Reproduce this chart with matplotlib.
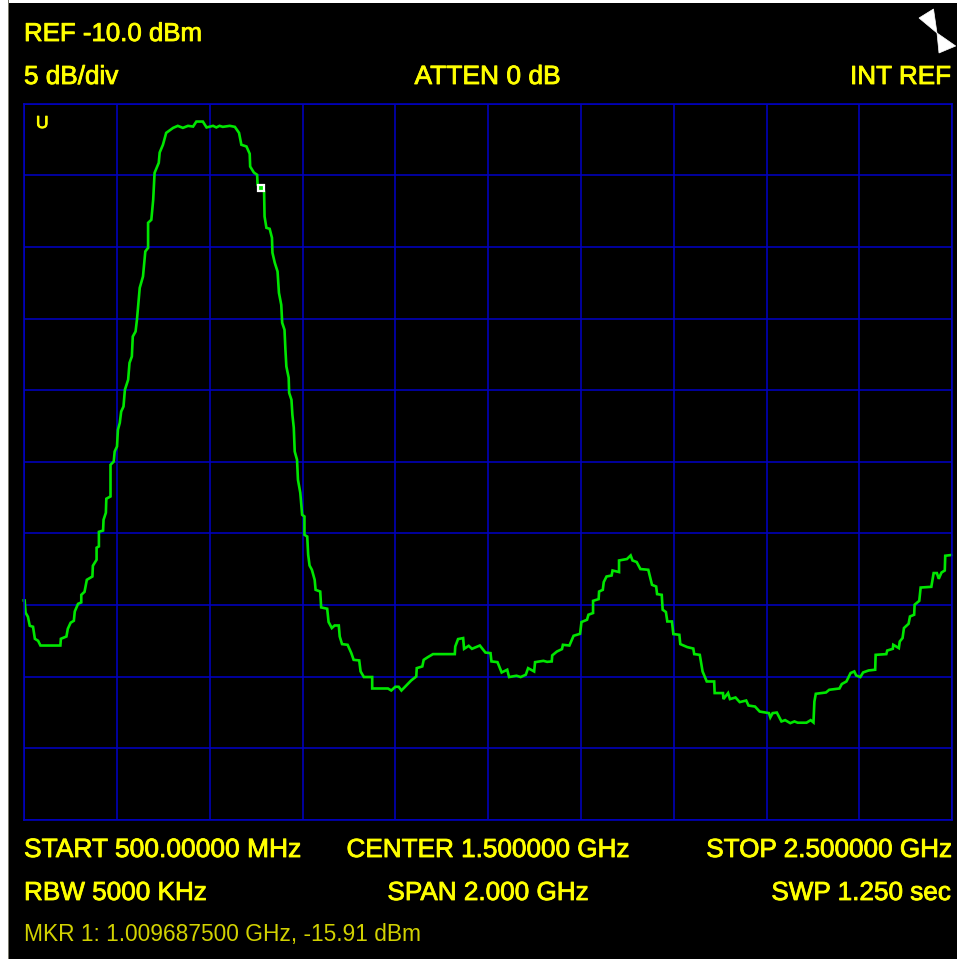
#!/usr/bin/env python3

# Spectrum analyzer screen capture
import matplotlib
matplotlib.use('Agg')
import matplotlib.pyplot as plt
import matplotlib.patheffects as pe
from matplotlib.patches import Polygon, Rectangle

W, H = 957, 959

# Trace corners
freq_mhz = [499, 501, 503, 508, 512, 519, 523, 530, 535, 578, 579, 591, 594, 600, 607, 609, 616, 623, 623, 630,
            635, 647, 648, 656, 656, 661, 661, 670, 671, 676, 677, 686, 686, 693, 695, 700, 702, 706, 709, 714,
            717, 724, 727, 732, 734, 740, 743, 749, 756, 761, 767, 767, 774, 778, 781, 790, 792, 799, 806, 821,
            831, 842, 853, 864, 871, 885, 893, 907, 914, 921, 928, 943, 954, 963, 968, 979, 986, 987, 995, 1002,
            1003, 1010, 1017, 1018, 1022, 1029, 1034, 1035, 1040, 1046, 1049, 1054, 1056, 1061, 1063, 1065, 1070, 1071, 1076, 1078,
            1081, 1083, 1088, 1090, 1095, 1099, 1104, 1104, 1110, 1112, 1115, 1120, 1126, 1128, 1138, 1140, 1153, 1156, 1163, 1169,
            1178, 1180, 1185, 1197, 1205, 1210, 1222, 1225, 1232, 1250, 1250, 1284, 1291, 1300, 1307, 1313, 1325, 1334, 1345, 1346,
            1358, 1361, 1370, 1381, 1428, 1429, 1435, 1446, 1448, 1458, 1465, 1482, 1494, 1505, 1507, 1520, 1529, 1541, 1545, 1561,
            1570, 1581, 1586, 1599, 1601, 1619, 1627, 1637, 1638, 1648, 1659, 1661, 1675, 1684, 1698, 1701, 1713, 1716, 1726, 1726,
            1738, 1739, 1747, 1749, 1755, 1766, 1768, 1782, 1782, 1799, 1807, 1811, 1820, 1828, 1845, 1853, 1862, 1864, 1874, 1876,
            1883, 1886, 1896, 1899, 1912, 1914, 1929, 1942, 1944, 1956, 1962, 1971, 1987, 1988, 2006, 2007, 2017, 2021, 2033, 2042,
            2056, 2061, 2075, 2085, 2105, 2108, 2113, 2122, 2132, 2140, 2151, 2160, 2167, 2186, 2195, 2201, 2203, 2206, 2228, 2235,
            2257, 2262, 2272, 2281, 2289, 2293, 2302, 2308, 2320, 2334, 2335, 2358, 2360, 2372, 2373, 2385, 2387, 2393, 2396, 2406,
            2409, 2418, 2419, 2429, 2432, 2455, 2460, 2467, 2471, 2477, 2484, 2485, 2498]
level_dbm = [-44.68, -44.68, -45.54, -45.82, -46.45, -46.52, -47.36, -47.50, -47.83, -47.83, -47.36, -47.20, -46.66, -46.24, -46.10, -45.45, -44.92, -44.82, -44.29, -44.08,
             -43.24, -43.01, -42.26, -41.84, -41.00, -40.91, -39.89, -39.80, -39.05, -38.56, -37.58, -37.42, -35.21, -34.98, -34.28, -33.93, -32.76, -32.28, -31.49, -31.14,
             -29.97, -29.27, -28.09, -27.65, -26.25, -25.90, -25.08, -22.85, -22.06, -20.31, -20.06, -18.31, -18.10, -16.70, -14.82, -14.12, -13.40, -12.86, -12.03, -11.68,
             -11.54, -11.68, -11.54, -11.59, -11.24, -11.24, -11.65, -11.54, -11.65, -11.54, -11.61, -11.54, -11.61, -12.03, -12.86, -12.98, -13.49, -14.38, -14.80, -14.96,
             -15.66, -15.91, -16.12, -17.87, -18.66, -18.73, -19.36, -20.40, -21.10, -21.71, -23.20, -24.04, -25.29, -25.78, -27.18, -28.34, -29.13, -30.18, -30.67, -31.72,
             -32.62, -34.28, -34.86, -36.26, -37.16, -38.70, -38.82, -40.10, -40.22, -41.49, -42.24, -42.54, -43.24, -43.94, -44.06, -45.17, -45.26, -46.19, -46.61, -46.43,
             -46.43, -47.20, -47.73, -47.78, -48.36, -48.83, -48.87, -49.64, -50.03, -50.03, -50.83, -50.83, -50.97, -50.71, -50.71, -50.97, -50.57, -50.27, -49.99, -49.41,
             -49.29, -48.83, -48.64, -48.43, -48.43, -47.90, -47.38, -47.31, -48.06, -47.85, -48.06, -47.83, -48.32, -48.36, -48.94, -48.99, -49.71, -49.52, -50.03, -49.94,
             -50.03, -49.87, -49.41, -49.64, -48.99, -48.90, -48.97, -48.94, -48.52, -48.25, -48.08, -47.78, -47.83, -47.15, -47.01, -46.19, -46.03, -45.68, -45.56, -44.71,
             -44.59, -44.06, -43.94, -43.40, -43.01, -42.94, -42.59, -42.70, -41.89, -41.79, -41.54, -41.89, -42.00, -42.49, -42.54, -43.59, -43.71, -44.24, -44.29, -45.33,
             -45.49, -46.15, -46.15, -47.03, -47.08, -47.73, -47.94, -48.04, -48.43, -48.48, -49.64, -50.34, -50.34, -51.15, -51.15, -51.57, -51.15, -51.57, -51.46, -51.78,
             -51.67, -52.02, -52.09, -52.44, -52.55, -52.85, -52.55, -52.51, -53.13, -53.04, -53.25, -53.13, -53.22, -53.22, -53.04, -53.20, -51.74, -51.20, -51.11, -50.92,
             -50.83, -50.52, -50.34, -49.75, -49.64, -49.92, -50.03, -49.71, -49.57, -49.52, -48.48, -48.43, -48.18, -48.06, -47.78, -48.01, -47.55, -47.31, -46.61, -46.31,
             -45.80, -45.68, -44.98, -44.71, -43.78, -43.73, -42.77, -42.77, -43.17, -42.73, -42.59, -41.56, -41.51]

marker_freq = 1009.6875
marker_level = -15.91

x_ticks = [500, 700, 900, 1100, 1300, 1500, 1700, 1900, 2100, 2300, 2500]
y_ticks = [-10, -15, -20, -25, -30, -35, -40, -45, -50, -55, -60]

YELLOW = '#ffff00'
BLUE = '#0000c0'
GREEN = '#00e600'

plt.rcParams['font.family'] = 'Liberation Sans'

fig = plt.figure(figsize=(W / 100, H / 100), dpi=100, facecolor='white')


def fx(px):
    return px / W


def fy(py):
    return 1 - py / H


# Black screen with grey edge on the left
fig.add_artist(Rectangle((fx(9), 0), 1 - fx(9), fy(3), transform=fig.transFigure, fc='black', ec='none', zorder=-2))
fig.add_artist(Rectangle((fx(8), 0), fx(1.2), 1, transform=fig.transFigure, fc='#77776a', ec='none', zorder=-2))

ax = fig.add_axes([fx(24.2), fy(819.8), 928 / W, 716 / H], facecolor='black')
ax.set_xlim(500, 2500)
ax.set_ylim(-60, -10)
ax.set_xticks(x_ticks)
ax.set_yticks(y_ticks)
ax.tick_params(length=0, labelbottom=False, labelleft=False)
ax.grid(True, color=BLUE, lw=1.15)
ax.set_axisbelow(True)
for s in ax.spines.values():
    s.set_color(BLUE)
    s.set_linewidth(1.15)

ax.plot(freq_mhz, level_dbm, color=GREEN, lw=1.9, solid_joinstyle='miter', clip_on=False)
ax.plot([marker_freq], [marker_level], 's', ms=5, mfc=GREEN, mec='white', mew=1.6, clip_on=False)


def label(px, py, s, ha='left', thick=0.6, **kw):
    kw.setdefault('color', YELLOW)
    kw.setdefault('fontsize', 18.8)
    t = fig.text(fx(px), fy(py), s, ha=ha, va='baseline', **kw)
    if thick:
        t.set_path_effects([pe.withStroke(linewidth=thick, foreground=kw['color'])])


label(24, 41, 'REF -10.0 dBm', fontsize=18.6)
label(24, 84, '5 dB/div')
label(487.5, 84, 'ATTEN 0 dB', ha='center', fontsize=19)
label(951, 84, 'INT REF', ha='right')
label(24, 857, 'START 500.00000 MHz', fontsize=19)
label(488, 857, 'CENTER 1.500000 GHz', ha='center')
label(952, 857, 'STOP 2.500000 GHz', ha='right')
label(24, 900, 'RBW 5000 KHz')
label(488, 900, 'SPAN 2.000 GHz', ha='center')
label(951, 900, 'SWP 1.250 sec', ha='right')
label(24, 941, 'MKR 1: 1.009687500 GHz, -15.91 dBm', color='#d2d200', fontsize=16.35, thick=0)
label(36, 128, 'U', fontsize=12.5)

# Hourglass icon top right
for tri in ([(933.5, 9), (919, 18), (937, 33)], [(937, 33), (939, 53), (955.7, 46)]):
    fig.add_artist(Polygon([(fx(a), fy(b)) for a, b in tri], transform=fig.transFigure, fc='white', ec='white', lw=0.5))

fig.savefig('out.png', dpi=100, facecolor='white')
